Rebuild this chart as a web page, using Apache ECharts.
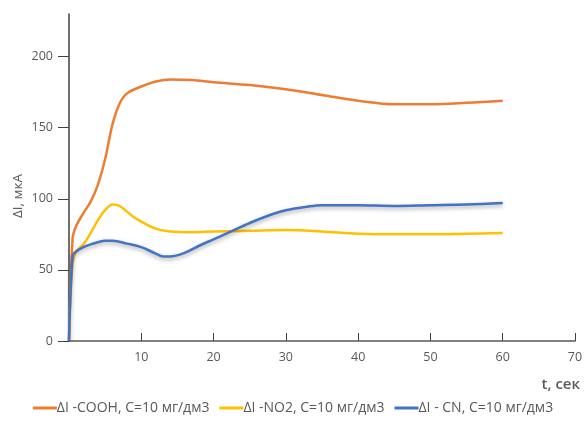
<!DOCTYPE html>
<html><head><meta charset="utf-8">
<script src="https://cdn.jsdelivr.net/npm/echarts@6/dist/echarts.min.js"></script>
<style>html,body{margin:0;padding:0;background:#fff}#c{width:586px;height:421px}</style>
</head><body><div id="c"></div>
<script>
const seriesNames = ['ΔI -COOH, C=10 мг/дм3', 'ΔI -NO2, C=10 мг/дм3', 'ΔI - CN, C=10 мг/дм3'];
const coohT = [0, 0.5, 1, 2, 3, 4, 5, 6, 7, 8, 10, 12, 14, 17, 20, 25, 30, 35, 40, 45, 50, 55, 60];
const coohV = [0, 72, 81, 90, 98, 110, 128, 152, 167, 174, 179, 182.5, 184, 183.5, 182, 180, 177, 173, 169, 166.5, 166.5, 167.5, 169];
const no2T = [0, 0.5, 1, 2, 3, 4, 5, 6, 7, 8, 9, 10, 12, 14, 17, 20, 25, 30, 35, 40, 45, 50, 55, 60];
const no2V = [0, 55, 63, 68, 76, 85, 92, 96, 95, 91, 87, 84, 79, 77, 76.5, 77, 77.5, 78, 77, 75.5, 75, 75, 75.5, 76];
const cnT = [0, 0.5, 1, 2, 3, 4, 5, 6, 8, 10, 12, 13, 14, 16, 18, 20, 22, 25, 28, 30, 33, 35, 40, 45, 50, 55, 60];
const cnV = [0, 60, 63, 66, 68, 69.5, 70.5, 70.5, 68.5, 66, 61.5, 59.5, 59.5, 62, 67, 71.5, 76, 83, 89, 92, 94.5, 95.5, 95.5, 95, 95.5, 96, 97];
const xTicks = [10, 20, 30, 40, 50, 60, 70];
const yTicks = [0, 50, 100, 150, 200];
const colors = ['#ED7D31', '#FFC000', '#4472C4'];

const zip = (a, b) => a.map((t, i) => [t, b[i]]);
const FONT = 'Open Sans';
const chart = echarts.init(document.getElementById('c'), null, {renderer: 'canvas'});
const mk = (i, t, v, extra) => Object.assign({
  name: seriesNames[i], type: 'line', data: zip(t, v), smooth: 0.35,
  showSymbol: false, symbol: 'none', lineStyle: {width: 2.5, color: colors[i]}, itemStyle: {color: colors[i]}
}, extra || {});
chart.setOption({
  animation: false,
  textStyle: {fontFamily: FONT},
  grid: {left: 69, right: 11, top: 14, bottom: 80, containLabel: false},
  xAxis: {
    type: 'value', min: 0, max: 70, interval: 10,
    axisLine: {show: true, lineStyle: {color: '#595959', width: 1.5}},
    axisTick: {show: true, inside: true, length: 8, lineStyle: {color: '#404040'}, customValues: xTicks},
    axisLabel: {color: '#595959', fontSize: 12.5, margin: 10, customValues: xTicks, fontFamily: FONT},
    splitLine: {show: false}
  },
  yAxis: {
    type: 'value', min: 0, max: 230,
    axisLine: {show: true, lineStyle: {color: '#404040', width: 1.5}},
    axisTick: {show: true, inside: false, length: 11, lineStyle: {color: '#404040'}, customValues: yTicks},
    axisLabel: {color: '#595959', fontSize: 12.5, margin: 16, customValues: yTicks, padding: [0, 0, 8, 0], fontFamily: FONT},
    splitLine: {show: false}
  },
  legend: {
    bottom: 1, left: 'center', itemGap: 10, itemWidth: 24, itemHeight: 3, icon: 'rect',
    textStyle: {color: '#595959', fontSize: 14, fontFamily: FONT, padding: [0, 0, 0, -5]},
    data: seriesNames
  },
  graphic: [{
    type: 'text', right: 6, top: 377,
    style: {text: 't, сек', font: '600 15px "Open Sans"', fill: '#595959'}
  }, {
    type: 'text', x: 18, y: 196, rotation: Math.PI / 2,
    style: {text: 'ΔI, мкА', font: '13.5px "Open Sans"', fill: '#595959', align: 'center', verticalAlign: 'middle'}
  }],
  series: [
    mk(0, coohT, coohV),
    mk(1, no2T, no2V),
    mk(2, cnT, cnV, {lineStyle: {width: 2.5, color: colors[2], shadowColor: 'rgba(0,0,0,0.35)', shadowBlur: 4, shadowOffsetY: 2}})
  ]
});
</script></body></html>
